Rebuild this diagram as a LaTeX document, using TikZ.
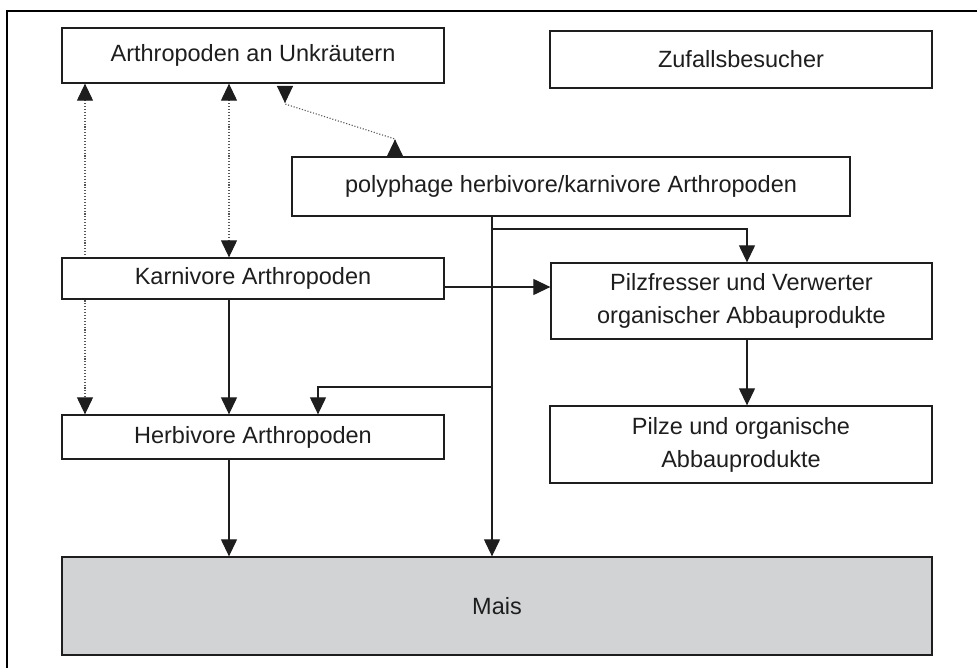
\documentclass[tikz,border=0pt]{standalone}
\usepackage{fontspec}
\setmainfont{Liberation Sans}
\usetikzlibrary{arrows.meta,backgrounds}
\definecolor{ink}{HTML}{1E1E1E}
\definecolor{dotgray}{HTML}{555555}
\definecolor{maisgray}{HTML}{D1D3D4}
\begin{document}
\begin{tikzpicture}[x=1pt,y=-1pt,
  tip/.tip={Triangle[length=17pt,width=16pt,color=ink]},
  rtip/.tip={Triangle[reversed,length=17pt,width=16pt,color=ink]},
  box/.style={draw=ink,line width=1.3pt,fill=white,inner sep=0pt,align=center,
    text=ink,font=\fontsize{23.5}{33}\selectfont},
  arr/.style={draw=ink,line width=1.2pt,-tip},
  dotarr/.style={draw=dotgray,line width=1.1pt,dash pattern=on 1.1pt off 1.8pt,tip-tip},
  dotrev/.style={draw=dotgray,line width=1.1pt,dash pattern=on 1.1pt off 1.8pt,rtip-rtip}]
\useasboundingbox (0,0) rectangle (977,668);
\draw[line width=1.4pt,black] (7,668) -- (7,11) -- (977,11);

\node[box,minimum width=382pt,minimum height=55pt] (arth) at (253,55.5) {Arthropoden an Unkräutern};
\node[box,minimum width=382pt,minimum height=57pt] (zuf) at (741,59.5) {Zufallsbesucher};
\node[box,minimum width=558pt,minimum height=59pt] (poly) at (571,186.5) {polyphage herbivore/karnivore Arthropoden};
\node[box,minimum width=382pt,minimum height=41pt] (karn) at (253,278.5) {Karnivore Arthropoden};
\node[box,minimum width=381pt,minimum height=76pt] (pilzf) at (741.5,301) {Pilzfresser und Verwerter\\organischer Abbauprodukte};
\node[box,minimum width=382pt,minimum height=44pt] (herb) at (253,437) {Herbivore Arthropoden};
\node[box,minimum width=382pt,minimum height=77pt] (pilze) at (741,444.5) {Pilze und organische\\Abbauprodukte};
\node[box,fill=maisgray,minimum width=870pt,minimum height=98pt] (mais) at (497,606) {Mais};

\coordinate (c1) at (85,0);
\coordinate (c2) at (229,0);
\coordinate (c3) at (318,0);
\coordinate (cv) at (492,0);
\coordinate (c4) at (747,0);
\coordinate (d1) at (285,86);
\coordinate (d2) at (285,104);
\coordinate (d3) at (395,139);
\coordinate (j1) at (492,229);
\coordinate (j2) at (492,387);

\begin{scope}[on background layer]
\draw[dotarr] (arth.south -| c1) -- (herb.north -| c1);
\end{scope}
\draw[dotarr] (arth.south -| c2) -- (karn.north -| c2);
\draw[dotrev] (d1) -- (d2) -- (d3) -- (poly.north -| d3);

\draw[arr] (poly.south -| cv) -- (mais.north -| cv);
\draw[arr] (j1) -- (j1 -| c4) -- (pilzf.north -| c4);
\draw[arr] (j2) -- (j2 -| c3) -- (herb.north -| c3);
\draw[arr] (karn.east |- 0,287) -- (pilzf.west |- 0,287);
\draw[arr] (karn.south -| c2) -- (herb.north -| c2);
\draw[arr] (herb.south -| c2) -- (mais.north -| c2);
\draw[arr] (pilzf.south -| c4) -- (pilze.north -| c4);
\end{tikzpicture}
\end{document}
